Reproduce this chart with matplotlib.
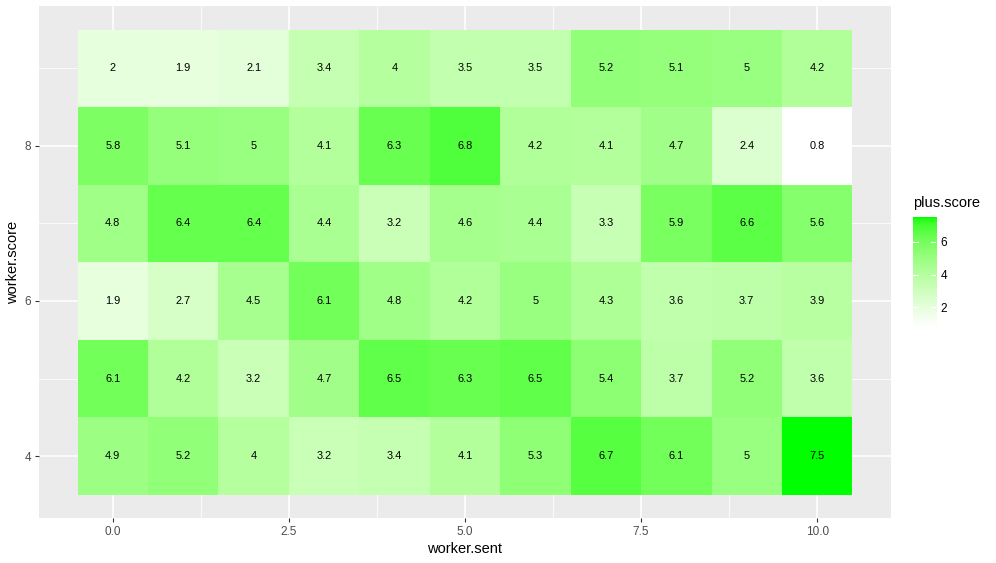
import numpy as np
import matplotlib
matplotlib.use("Agg")
import matplotlib.pyplot as plt
from matplotlib.colors import ListedColormap, Normalize
from matplotlib.ticker import MultipleLocator

plt.rcParams['font.family'] = ['Liberation Sans', 'DejaVu Sans']

worker_sent = [0, 1, 2, 3, 4, 5, 6, 7, 8, 9, 10]
worker_score = [4, 5, 6, 7, 8, 9]
# rows follow worker_score (4 at the bottom ... 9 at the top)
plus_score = [
    [4.9, 5.2, 4.0, 3.2, 3.4, 4.1, 5.3, 6.7, 6.1, 5.0, 7.5],
    [6.1, 4.2, 3.2, 4.7, 6.5, 6.3, 6.5, 5.4, 3.7, 5.2, 3.6],
    [1.9, 2.7, 4.5, 6.1, 4.8, 4.2, 5.0, 4.3, 3.6, 3.7, 3.9],
    [4.8, 6.4, 6.4, 4.4, 3.2, 4.6, 4.4, 3.3, 5.9, 6.6, 5.6],
    [5.8, 5.1, 5.0, 4.1, 6.3, 6.8, 4.2, 4.1, 4.7, 2.4, 0.8],
    [2.0, 1.9, 2.1, 3.4, 4.0, 3.5, 3.5, 5.2, 5.1, 5.0, 4.2],
]


# ggplot-style gradient: interpolate white -> green in Lab space
def srgb_to_lab(rgb):
    rgb = np.asarray(rgb, float)
    lin = np.where(rgb <= 0.04045, rgb / 12.92, ((rgb + 0.055) / 1.055) ** 2.4)
    m = np.array([[0.4124, 0.3576, 0.1805],
                  [0.2126, 0.7152, 0.0722],
                  [0.0193, 0.1192, 0.9505]])
    xyz = m @ lin / np.array([0.95047, 1.0, 1.08883])
    f = np.where(xyz > 0.008856, np.cbrt(xyz), 7.787 * xyz + 16 / 116)
    return np.array([116 * f[1] - 16, 500 * (f[0] - f[1]), 200 * (f[1] - f[2])])


def lab_to_srgb(lab):
    L, a, b = lab
    fy = (L + 16) / 116
    fx = fy + a / 500
    fz = fy - b / 200
    f = np.array([fx, fy, fz])
    xyz = np.where(f ** 3 > 0.008856, f ** 3, (f - 16 / 116) / 7.787)
    xyz = xyz * np.array([0.95047, 1.0, 1.08883])
    minv = np.array([[3.2406, -1.5372, -0.4986],
                     [-0.9689, 1.8758, 0.0415],
                     [0.0557, -0.2040, 1.0570]])
    lin = minv @ xyz
    lin = np.clip(lin, 0, 1)
    rgb = np.where(lin <= 0.0031308, 12.92 * lin, 1.055 * lin ** (1 / 2.4) - 0.055)
    return np.clip(rgb, 0, 1)


lo = srgb_to_lab([1, 1, 1])
hi = srgb_to_lab([0, 1, 0])
cmap = ListedColormap([lab_to_srgb(lo + (hi - lo) * t) for t in np.linspace(0, 1, 256)])

vals = np.array(plus_score)
norm = Normalize(vmin=vals.min(), vmax=vals.max())

fig = plt.figure(figsize=(9.96, 5.63), dpi=100)
ax = fig.add_axes([0.039, 0.0799, 0.8557, 0.9086])
ax.set_facecolor('#EBEBEB')

xe = np.arange(len(worker_sent) + 1) - 0.5
ye = np.arange(len(worker_score) + 1) + worker_score[0] - 0.5
ax.pcolormesh(xe, ye, vals, cmap=cmap, norm=norm, zorder=2)

for i, ys in enumerate(worker_score):
    for j, xs in enumerate(worker_sent):
        v = plus_score[i][j]
        ax.text(xs, ys, f"{v:g}", ha='center', va='center', fontsize=7.9,
                color='black', zorder=3)

ax.set_xlim(-1.05, 11.05)
ax.set_ylim(3.2, 9.8)
ax.xaxis.set_major_locator(MultipleLocator(2.5))
ax.xaxis.set_minor_locator(MultipleLocator(1.25))
ax.yaxis.set_major_locator(MultipleLocator(2))
ax.yaxis.set_minor_locator(MultipleLocator(1))
ax.set_xticks([0, 2.5, 5, 7.5, 10])
ax.set_xticklabels(['0.0', '2.5', '5.0', '7.5', '10.0'])
ax.set_yticks([4, 6, 8])
ax.grid(which='major', color='white', linewidth=1.1, zorder=1)
ax.grid(which='minor', color='white', linewidth=0.55, zorder=1)
ax.set_axisbelow(True)
for s in ax.spines.values():
    s.set_visible(False)
ax.tick_params(which='major', length=3, width=0.8, color='#333333',
               labelsize=8.5, labelcolor='#4D4D4D', pad=2.5)
ax.tick_params(which='minor', length=0)
ax.set_xlabel('worker.sent', fontsize=10.5, labelpad=3)
ax.set_ylabel('worker.score', fontsize=10.5, labelpad=3)

# colour bar legend
cax = fig.add_axes([0.9167, 0.419, 0.0231, 0.195])
grad = np.linspace(vals.min(), vals.max(), 300).reshape(-1, 1)
cax.imshow(grad, cmap=cmap, norm=norm, aspect='auto', origin='lower',
           extent=[0, 1, vals.min(), vals.max()])
cax.set_xlim(0, 1)
cax.set_ylim(vals.min(), vals.max())
cax.set_xticks([])
cb_ticks = [2, 4, 6]
cax.set_yticks(cb_ticks)
cax.yaxis.tick_right()
cax.tick_params(axis='y', length=0, labelsize=8.5, pad=3)
for t in cb_ticks:
    cax.plot([0, 0.2], [t, t], color='white', lw=0.8)
    cax.plot([0.8, 1], [t, t], color='white', lw=0.8)
for s in cax.spines.values():
    s.set_visible(False)
fig.text(0.9167, 0.64, 'plus.score', fontsize=10.5, ha='left', va='center')

fig.savefig('out.png', dpi=100)
